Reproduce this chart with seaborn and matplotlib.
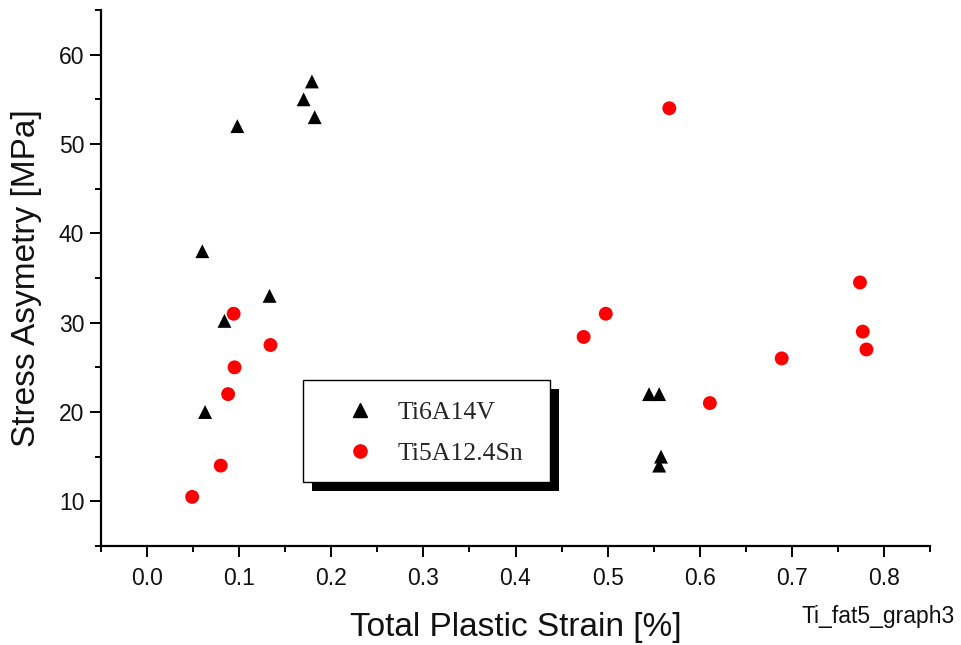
import numpy as np
import pandas as pd
import matplotlib
matplotlib.use("Agg")
import matplotlib.pyplot as plt
import seaborn as sns
from matplotlib.patches import Rectangle
from matplotlib.ticker import MultipleLocator
from matplotlib.lines import Line2D

# Data
ti64_strain = [0.060, 0.063, 0.084, 0.098, 0.133, 0.170, 0.179, 0.182, 0.545, 0.556, 0.558, 0.556]
ti64_stress = [38, 20, 30.2, 52, 33, 55, 57, 53, 22, 22, 15, 14]
ti5_strain = [0.049, 0.080, 0.088, 0.094, 0.095, 0.134, 0.474, 0.498, 0.567, 0.611, 0.689, 0.774, 0.777, 0.781]
ti5_stress = [10.5, 14, 22, 31, 25, 27.5, 28.4, 31, 54, 21, 26, 34.5, 29, 27]
series_names = ["Ti6Al4V", "Ti5Al2.4Sn"]
legend_labels = ["Ti6A14V", "Ti5A12.4Sn"]
x_ticks = [0.0, 0.1, 0.2, 0.3, 0.4, 0.5, 0.6, 0.7, 0.8]
y_ticks = [10, 20, 30, 40, 50, 60]

df = pd.DataFrame({
    "strain": ti64_strain + ti5_strain,
    "stress": ti64_stress + ti5_stress,
    "alloy": [series_names[0]] * len(ti64_strain) + [series_names[1]] * len(ti5_strain),
})

sns.set_theme(style="ticks")
plt.rcParams['font.family'] = ['Liberation Sans', 'DejaVu Sans']

W, H = 961, 645
fig = plt.figure(figsize=(W/100, H/100), dpi=100)
ax = fig.add_axes([101/W, 1 - 546/H, (930-101)/W, (546-10)/H])

sns.scatterplot(data=df, x="strain", y="stress", hue="alloy", style="alloy",
                hue_order=series_names, style_order=series_names,
                palette={series_names[0]: "black", series_names[1]: "#ff0000"},
                markers={series_names[0]: "^", series_names[1]: "o"},
                s=100, linewidth=0, ax=ax, legend=False, zorder=3)

ax.set_xlim(-0.05, 0.85)
ax.set_ylim(5, 65)
ax.set_xticks(x_ticks)
ax.set_xticklabels([f"{v:.1f}" for v in x_ticks])
ax.set_yticks(y_ticks)
ax.xaxis.set_minor_locator(MultipleLocator(0.05))
ax.yaxis.set_minor_locator(MultipleLocator(5))

for side in ["top", "right"]:
    ax.spines[side].set_visible(False)
for side in ["left", "bottom"]:
    ax.spines[side].set_color("black")
    ax.spines[side].set_linewidth(1.6)

ax.tick_params(axis="both", which="major", direction="out", length=8, width=1.4,
               color="black", labelsize=16.5, labelcolor="#111111",
               bottom=True, left=True)
ax.tick_params(axis="both", which="minor", direction="out", length=4.5, width=1.4,
               color="black", bottom=True, left=True)
ax.tick_params(axis="x", which="major", pad=7)
ax.tick_params(axis="y", which="major", pad=4)

ax.set_xlabel("Total Plastic Strain [%]", fontsize=24, labelpad=16, color="#111111")
ax.set_ylabel("Stress Asymetry [MPa]", fontsize=24, labelpad=12, color="#111111")

# Legend box with hard shadow
def fig_rect(x0, y0, x1, y1, **kw):
    r = Rectangle((x0/W, 1 - y1/H), (x1-x0)/W, (y1-y0)/H, transform=fig.transFigure,
                  **kw)
    ax.add_artist(r)
    r.set_clip_on(False)
    return r

fig_rect(311.5, 388.5, 558.5, 490.5, facecolor="black", edgecolor="none", zorder=6)
fig_rect(303, 380, 550, 482, facecolor="white", edgecolor="black", linewidth=1.0, zorder=7)

handles = [
    Line2D([], [], marker="^", linestyle="none", color="black", markersize=10),
    Line2D([], [], marker="o", linestyle="none", color="#ff0000", markersize=9.5),
]
leg = ax.legend(handles, legend_labels, loc="center left",
                bbox_to_anchor=(347.5/W, 1 - 433/H), bbox_transform=fig.transFigure,
                frameon=False,
                prop={"family": "Liberation Serif", "size": 18.5},
                borderpad=0, labelspacing=0.72, handletextpad=0.95,
                handlelength=1.0, borderaxespad=0)
leg.set_zorder(8)

fig.text(955/W, 1 - 617/H, "Ti_fat5_graph3", ha="right", va="center",
         fontsize=16.5, color="#111111")

fig.savefig("out.png", dpi=100, facecolor="white")
